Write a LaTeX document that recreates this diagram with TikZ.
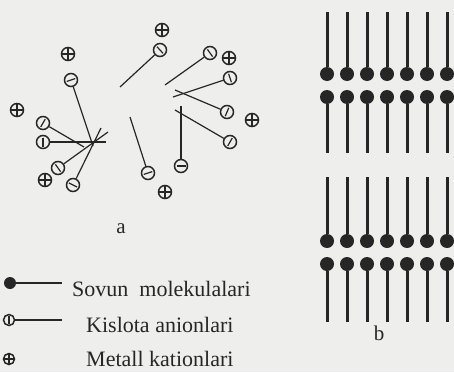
\documentclass[tikz,border=0pt]{standalone}
\usepackage{fontspec}
\setmainfont{Liberation Serif}
\usetikzlibrary{calc}
\definecolor{paper}{HTML}{EEEEEC}
\definecolor{ink}{HTML}{262626}

\tikzset{
  ion/.style={circle,draw=ink,line width=1.5pt,inner sep=0pt,minimum size=13pt,fill=paper},
  cation/.style={ion,path picture={\draw[ink,line width=1.2pt]
      (path picture bounding box.north) -- (path picture bounding box.south)
      (path picture bounding box.west) -- (path picture bounding box.east);}},
  tail/.style={draw=ink,line width=1.2pt},
  sign/.style={draw=ink,line width=1.2pt},
  soap/.style={circle,fill=ink,inner sep=0pt,minimum size=14pt},
  chain/.style={draw=ink,line width=3pt},
  legtext/.style={anchor=base west,inner sep=0pt,text=ink,font=\fontsize{22}{22}\selectfont},
  tag/.style={text=ink,font=\fontsize{21}{21}\selectfont},
}

\begin{document}
\begin{tikzpicture}[x=1pt,y=-1pt]
  \path[use as bounding box,fill=paper] (0,0) rectangle (454,372);

  % a: anions with their tails, sign across the head
  \foreach \hx/\hy/\tx/\ty [count=\i] in {71/80/93/146, 43/123/84/147, 43/142/106/142,
      58/168/108/132, 73/185/101/128, 160/50/120/87, 148/173/130/117, 210/53/165/85,
      230/78/173/97, 227/112/175/90, 230/142/175/110, 181/166/181/106}
  {
    \node[ion] (a\i) at (\hx,\hy) {};
    \coordinate (t\i) at (\tx,\ty);
    \draw[tail] (a\i) -- (t\i);
    \draw[sign] ($(a\i)!4.5pt!90:(t\i)$) -- ($(a\i)!4.5pt!-90:(t\i)$);
  }
  % metal cations
  \foreach \x/\y [count=\i] in {162/30, 68/54, 229/58, 17/110, 252/120, 45/180, 165/192}
    \node[cation] (k\i) at (\x,\y) {};
  \node[tag] (la) at (121,229) {a};

  % b: two double layers of soap molecules
  \foreach \top/\ua/\ub/\bot [count=\g] in {12/74/97/153, 177/241/264/322}
    \foreach \c in {0,...,6}
    {
      \node[soap] (u\g\c) at (327+20*\c,\ua) {};
      \coordinate (ue\g\c) at (327+20*\c,\top);
      \draw[chain] (u\g\c) -- (ue\g\c);
      \node[soap] (d\g\c) at (327+20*\c,\ub) {};
      \coordinate (de\g\c) at (327+20*\c,\bot);
      \draw[chain] (d\g\c) -- (de\g\c);
    }
  \node[tag] (lb) at (379,333) {b};

  % legend
  \node[soap,minimum size=12pt] (s0) at (10,283) {};
  \coordinate (s1) at (62,283);
  \draw[ink,line width=2pt] (s0) -- (s1);
  \node[legtext] (st) at (72,296) {Sovun\ \ molekulalari};

  \node[ion,minimum size=11pt] (n0) at (9,320) {};
  \coordinate (n1) at (62,320);
  \draw[tail] (n0) -- (n1);
  \draw[sign] ($(n0)!4pt!90:(n1)$) -- ($(n0)!4pt!-90:(n1)$);
  \node[legtext] (nt) at (86,332) {Kislota anionlari};

  \node[cation,minimum size=11pt] (m0) at (9,359) {};
  \node[legtext] (mt) at (86,366) {Metall kationlari};
\end{tikzpicture}
\end{document}
